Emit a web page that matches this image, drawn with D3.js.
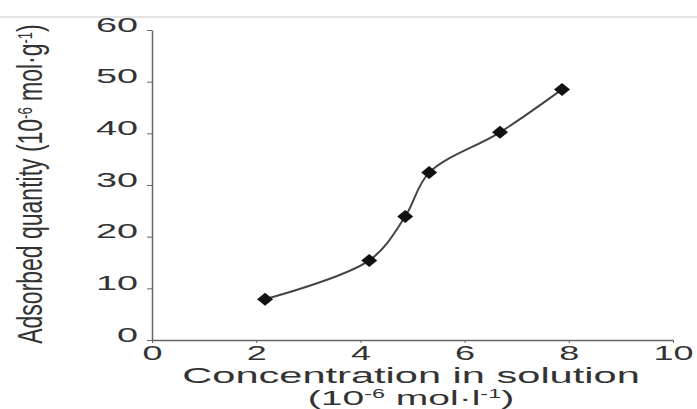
<!DOCTYPE html>
<html>
<head>
<meta charset="utf-8">
<script src="https://cdn.jsdelivr.net/npm/d3@7"></script>
<style>
  body { margin: 0; background: #fff; }
  text { font-family: "Liberation Sans", Arial, sans-serif; fill: #333; }
</style>
</head>
<body>
<div id="chart"></div>
<script>
// Data
const concentration = [2.17, 4.17, 4.86, 5.32, 6.68, 7.87];
const adsorbed = [7.9, 15.4, 23.9, 32.4, 40.2, 48.5];
const xTicks = [0, 2, 4, 6, 8, 10];
const yTicks = [0, 10, 20, 30, 40, 50, 60];

const width = 697;
const height = 409;
// the original picture is stretched sideways, so the text is too
const sx = 1.8;

const svg = d3.select("#chart")
  .append("svg")
  .attr("width", width)
  .attr("height", height);

// Light rule along the top
svg.append("line")
  .attr("x1", 0).attr("x2", width)
  .attr("y1", 17).attr("y2", 17)
  .attr("stroke", "#ddd")
  .attr("stroke-width", 1.5);

const x = d3.scaleLinear().domain([0, 10]).range([152, 673]);
const y = d3.scaleLinear().domain([0, 60]).range([340, 30]);

// X axis
const gx = svg.append("g")
  .attr("transform", "translate(0," + y(0) + ")")
  .call(d3.axisBottom(x).tickValues(xTicks).tickSize(3).tickSizeOuter(0).tickPadding(3));

gx.select(".domain").attr("stroke", "#666").attr("stroke-width", 1.5);
gx.selectAll(".tick line").attr("stroke", "#666");
gx.selectAll("text")
  .attr("transform", `scale(${sx},1)`)
  .style("font-size", "20px")
  .attr("fill", "#333");

// Y axis
const gy = svg.append("g")
  .attr("transform", "translate(" + x(0) + ",0)")
  .call(d3.axisLeft(y).tickValues(yTicks).tickSize(5).tickSizeOuter(0));

gy.select(".domain").attr("stroke", "#666").attr("stroke-width", 1.5);
gy.selectAll(".tick line").attr("stroke", "#666");
gy.selectAll("text")
  .attr("x", -14 / sx)
  .attr("dy", "1")
  .attr("transform", `scale(${sx},1)`)
  .style("font-size", "21px")
  .attr("fill", "#333");

// Curve through the points
const points = concentration.map((c, i) => [c, adsorbed[i]]);

const line = d3.line()
  .x(d => x(d[0]))
  .y(d => y(d[1]))
  .curve(d3.curveCatmullRom.alpha(0.5));

svg.append("path")
  .datum(points)
  .attr("d", line)
  .attr("fill", "none")
  .attr("stroke", "#444")
  .attr("stroke-width", 2);

// Diamond markers
svg.selectAll(".marker")
  .data(points)
  .enter()
  .append("path")
  .attr("class", "marker")
  .attr("d", "M0,-6.5L8,0L0,6.5L-8,0Z")
  .attr("transform", d => "translate(" + x(d[0]) + "," + y(d[1]) + ")")
  .attr("fill", "#111");

// X title, two lines
svg.append("text")
  .attr("transform", "translate(411,383) scale(1.89,1)")
  .attr("text-anchor", "middle")
  .style("font-size", "22px")
  .text("Concentration in solution");

const xt2 = svg.append("text")
  .attr("transform", "translate(411,405) scale(1.95,1)")
  .attr("text-anchor", "middle")
  .style("font-size", "20px");
xt2.append("tspan").text("(10");
xt2.append("tspan").attr("dy", -7).style("font-size", "12px").text("-6");
xt2.append("tspan").attr("dy", 7).text(" mol·l");
xt2.append("tspan").attr("dy", -7).style("font-size", "12px").text("-1");
xt2.append("tspan").attr("dy", 7).text(")");

// Y title, rotated
const yt = svg.append("text")
  .attr("transform", "translate(42,184) scale(1.5,1) rotate(-90)")
  .attr("text-anchor", "middle")
  .style("font-size", "23px");
yt.append("tspan").text("Adsorbed quantity (10");
yt.append("tspan").attr("dy", -7).style("font-size", "13px").text("-6");
yt.append("tspan").attr("dy", 7).text(" mol·g");
yt.append("tspan").attr("dy", -7).style("font-size", "13px").text("-1");
yt.append("tspan").attr("dy", 7).text(")");
</script>
</body>
</html>
